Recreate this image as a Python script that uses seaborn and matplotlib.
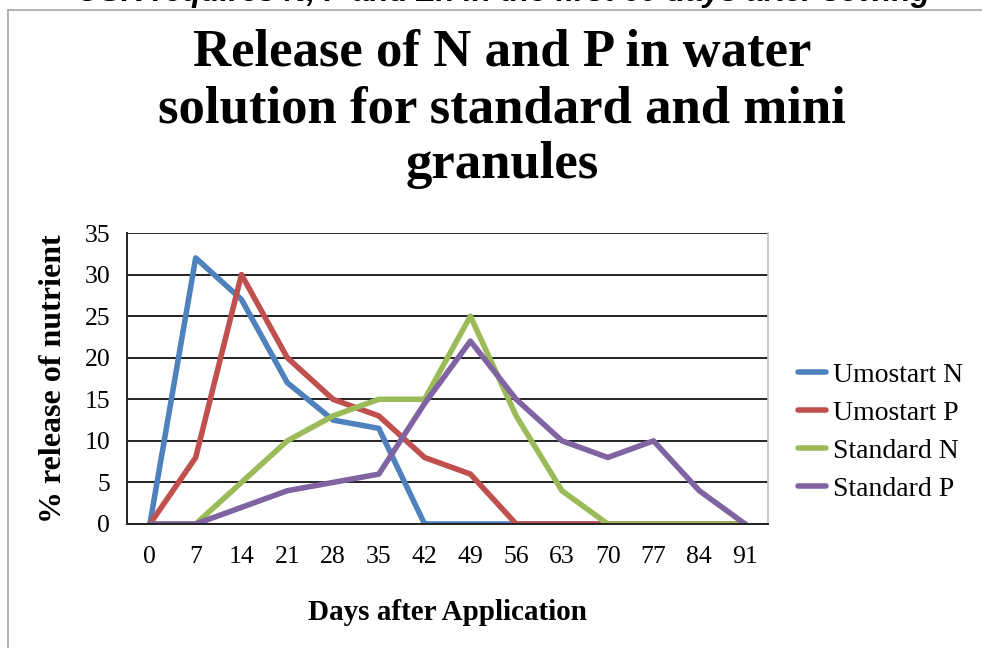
import numpy as np
import pandas as pd
import matplotlib
matplotlib.use("Agg")
import matplotlib.pyplot as plt
import seaborn as sns
from matplotlib.lines import Line2D

# Data
days = [0, 7, 14, 21, 28, 35, 42, 49, 56, 63, 70, 77, 84, 91]
umostart_n = [0, 32, 27, 17, 12.5, 11.5, 0, 0, 0, 0, 0, 0, 0, 0]
umostart_p = [0, 8, 30, 20, 15, 13, 8, 6, 0, 0, 0, 0, 0, 0]
standard_n = [0, 0, 5, 10, 13, 15, 15, 25, 13, 4, 0, 0, 0, 0]
standard_p = [0, 0, 2, 4, 5, 6, 14.5, 22, 15, 10, 8, 10, 4, 0]
series_names = ["Umostart N", "Umostart P", "Standard N", "Standard P"]
colors = ["#4F81BD", "#C0504D", "#9BBB59", "#8064A2"]

df = pd.DataFrame({
    "day": days * 4,
    "value": umostart_n + umostart_p + standard_n + standard_p,
    "series": [s for s in series_names for _ in days],
})

sns.set_style("white")
plt.rcParams["font.family"] = ["Liberation Serif", "DejaVu Serif"]
plt.rcParams["text.color"] = "black"
plt.rcParams["axes.labelcolor"] = "black"
plt.rcParams["xtick.color"] = "black"
plt.rcParams["ytick.color"] = "black"

fig = plt.figure(figsize=(9.82, 6.48), dpi=100)
ax = fig.add_axes([127 / 982, 1 - 524 / 648, (768 - 127) / 982, (524 - 233) / 648])

sns.lineplot(data=df, x="day", y="value", hue="series", hue_order=series_names,
             palette=colors, linewidth=4.0, ax=ax, legend=False)

ax.set_xlim(-3.5, 94.5)
ax.set_ylim(0, 35)
ax.set_xticks(days)
ax.set_xticklabels([str(d) for d in days])
ax.set_yticks(range(0, 36, 5))
ax.tick_params(axis="both", length=0, labelsize=18.5)
ax.tick_params(axis="x", pad=16)
ax.tick_params(axis="y", pad=12)
ax.yaxis.grid(True, color="#222222", linewidth=1.4)
ax.set_axisbelow(True)
for side in ["left", "bottom"]:
    ax.spines[side].set_color("#222222")
    ax.spines[side].set_linewidth(1.4)
ax.spines["top"].set_visible(False)
ax.spines["right"].set_color("#bfbfbf")
ax.spines["right"].set_linewidth(1.2)

ax.set_xlabel("Days after Application", fontsize=21, fontweight="bold", labelpad=22)
ax.set_ylabel("% release of nutrient", fontsize=23, fontweight="bold", labelpad=12)

fig.text(502 / 982, 1 - 29 / 648,
         "Release of N and P in water\nsolution for standard and mini\ngranules",
         ha="center", va="top", fontsize=38, fontweight="bold", linespacing=1.22)

# cut-off caption at the very top
fig.text(503 / 982, 1 - 1 / 648,
         "OSR requires N, P and Zn in the first 60 days after sowing",
         ha="center", va="baseline", fontsize=22.5, fontweight="bold",
         fontstyle="italic", family=["Liberation Sans", "DejaVu Sans"])

# chart frame
fig.add_artist(Line2D([8 / 982, 8 / 982], [0, 1 - 10 / 648], color="#a6a6a6", lw=1.2))
fig.add_artist(Line2D([8 / 982, 1], [1 - 10 / 648, 1 - 10 / 648], color="#a6a6a6", lw=1.2))

handles = [Line2D([], [], color=c, lw=4.0) for c in colors]
fig.legend(handles, series_names, loc="center left",
           bbox_to_anchor=(798 / 982, 1 - 432 / 648), frameon=False,
           fontsize=20, handlelength=1.0, handletextpad=0.25,
           labelspacing=0.45, borderpad=0, borderaxespad=0)

fig.savefig("out.png", dpi=100)
